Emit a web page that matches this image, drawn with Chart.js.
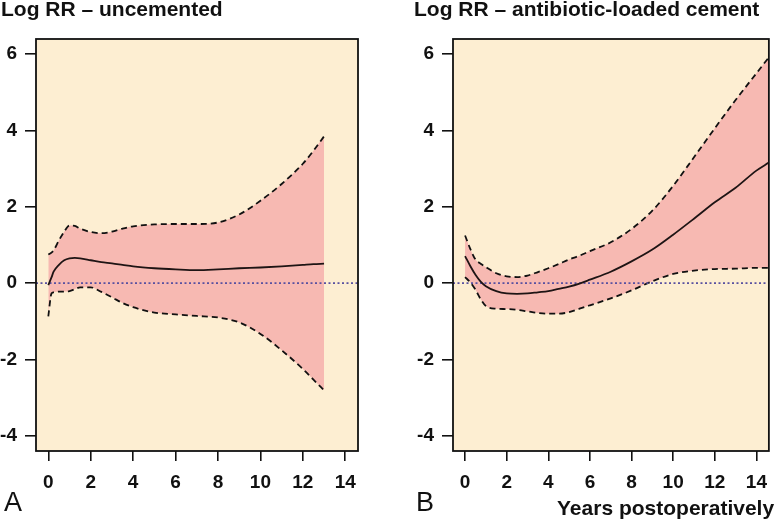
<!DOCTYPE html>
<html>
<head>
<meta charset="utf-8">
<script src="https://cdn.jsdelivr.net/npm/chart.js@4"></script>
<style>
  body { margin: 0; background: #fff; width: 777px; height: 519px; overflow: hidden; position: relative; font-family: "Liberation Sans", Arial, sans-serif; color: #111; }
  canvas { position: absolute; top: 0; }
  .t { position: absolute; line-height: 1; white-space: nowrap; }
  .title { font-size: 21px; font-weight: bold; top: -2px; }
  .panel { font-size: 27px; top: 489px; }
</style>
</head>
<body>
<canvas id="chartA" width="390" height="519" style="left:0"></canvas>
<canvas id="chartB" width="387" height="519" style="left:390px"></canvas>
<div class="t title" style="left:1px">Log RR – uncemented</div>
<div class="t title" style="left:414px">Log RR – antibiotic-loaded cement</div>
<div class="t panel" style="left:4px">A</div>
<div class="t panel" style="left:416px">B</div>
<div class="t title" style="left:557px;top:497px">Years postoperatively</div>
<script>
const xTicks = [0, 2, 4, 6, 8, 10, 12, 14];
const yTicks = [-4, -2, 0, 2, 4, 6];
const X_MIN = -0.58, X_MAX = 14.6, Y_MIN = -4.4, Y_MAX = 6.4;

// A - uncemented
const yearsA = [0, 0.15, 0.25, 0.5, 0.75, 1, 1.25, 1.5, 2, 2.5, 3, 3.5, 4, 5, 6, 7, 8, 9, 10, 11, 12, 12.5, 13];
const meanA  = [-0.05, 0.15, 0.3, 0.48, 0.6, 0.65, 0.66, 0.65, 0.6, 0.55, 0.52, 0.48, 0.44, 0.39, 0.36, 0.34, 0.36, 0.39, 0.41, 0.44, 0.48, 0.5, 0.51];
const upperA = [0.75, 0.8, 0.86, 1.12, 1.35, 1.51, 1.5, 1.43, 1.34, 1.31, 1.35, 1.43, 1.49, 1.54, 1.55, 1.55, 1.59, 1.8, 2.16, 2.6, 3.13, 3.47, 3.85];
const lowerA = [-0.87, -0.27, -0.24, -0.22, -0.22, -0.21, -0.16, -0.11, -0.11, -0.23, -0.37, -0.52, -0.63, -0.77, -0.82, -0.86, -0.9, -1.03, -1.33, -1.76, -2.25, -2.53, -2.81];

// B - antibiotic-loaded cement
const yearsB = [0, 0.25, 0.5, 0.75, 1, 1.5, 2, 2.5, 3, 3.5, 4, 4.5, 5, 5.5, 6, 7, 8, 9, 10, 11, 12, 13, 14, 14.6];
const meanB  = [0.71, 0.45, 0.22, 0.04, -0.08, -0.21, -0.27, -0.28, -0.27, -0.24, -0.21, -0.15, -0.09, -0.01, 0.09, 0.3, 0.57, 0.88, 1.27, 1.69, 2.12, 2.5, 2.95, 3.16];
const upperB = [1.25, 0.9, 0.62, 0.51, 0.42, 0.26, 0.18, 0.16, 0.2, 0.29, 0.39, 0.5, 0.62, 0.72, 0.84, 1.07, 1.42, 1.9, 2.55, 3.3, 4.06, 4.8, 5.5, 5.92];
const lowerB = [0.16, 0.02, -0.17, -0.42, -0.6, -0.67, -0.68, -0.7, -0.74, -0.78, -0.8, -0.8, -0.76, -0.67, -0.58, -0.4, -0.19, 0.05, 0.24, 0.33, 0.37, 0.38, 0.4, 0.4];

const pts = (xs, ys) => xs.map((x, i) => ({ x, y: ys[i] }));

const panelBox = {
  id: 'panelBox',
  beforeDraw(chart) {
    const { ctx, chartArea: a } = chart;
    ctx.save();
    ctx.fillStyle = '#fdeed2';
    ctx.fillRect(a.left, a.top, a.right - a.left, a.bottom - a.top);
    ctx.restore();
  },
  afterDraw(chart) {
    const { ctx, chartArea: a } = chart;
    ctx.save();
    ctx.strokeStyle = '#111';
    ctx.lineWidth = 1.8;
    ctx.strokeRect(a.left, a.top, a.right - a.left, a.bottom - a.top);
    ctx.restore();
  }
};

const tickFont = { family: '"Liberation Sans", Arial, sans-serif', size: 19, weight: 'bold' };

function drawPanel(id, years, mean, upper, lower, yWidth, padRight) {
  const dashed = { borderColor: '#111', borderWidth: 1.8, borderDash: [6, 4], pointRadius: 0, cubicInterpolationMode: 'monotone' };
  return new Chart(document.getElementById(id), {
    type: 'line',
    data: {
      datasets: [
        { data: pts(years, mean), borderColor: '#1e1414', borderWidth: 1.8, pointRadius: 0, cubicInterpolationMode: 'monotone', fill: false },
        { data: [{ x: X_MIN, y: 0 }, { x: X_MAX, y: 0 }], borderColor: '#5850a0', borderWidth: 1.6, borderDash: [2, 2.5], pointRadius: 0, fill: false },
        { ...dashed, data: pts(years, upper), fill: '+1', backgroundColor: '#f7b9b2' },
        { ...dashed, data: pts(years, lower), fill: false }
      ]
    },
    options: {
      responsive: false,
      animation: false,
      layout: { padding: { top: 39, right: padRight, left: 0, bottom: 0 } },
      plugins: {
        legend: { display: false },
        tooltip: { enabled: false },
        filler: { drawTime: 'beforeDatasetsDraw' }
      },
      scales: {
        x: {
          type: 'linear', min: X_MIN, max: X_MAX,
          afterBuildTicks: s => { s.ticks = xTicks.map(v => ({ value: v })); },
          afterFit: s => { s.height = 68; },
          grid: { drawOnChartArea: false, tickLength: 10, color: '#111', lineWidth: 1.6 },
          border: { display: false },
          ticks: { padding: 10, color: '#111', font: tickFont, maxRotation: 0 }
        },
        y: {
          type: 'linear', min: Y_MIN, max: Y_MAX,
          afterBuildTicks: s => { s.ticks = yTicks.map(v => ({ value: v })); },
          afterFit: s => { s.width = yWidth; },
          grid: { drawOnChartArea: false, tickLength: 11, color: '#111', lineWidth: 1.6 },
          border: { display: false },
          ticks: { padding: 8, color: '#111', font: tickFont }
        }
      }
    },
    plugins: [panelBox]
  });
}

drawPanel('chartA', yearsA, meanA, upperA, lowerA, 36, 32);
drawPanel('chartB', yearsB, meanB, upperB, lowerB, 63, 1);
</script>
</body>
</html>
